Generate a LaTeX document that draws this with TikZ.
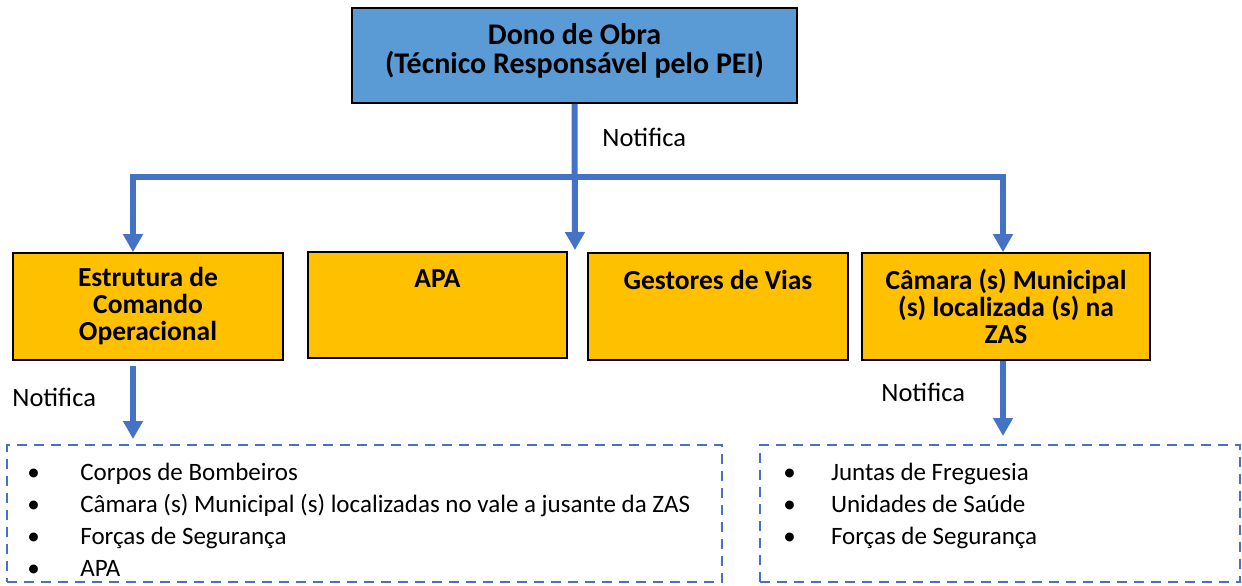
\documentclass[tikz,border=0pt]{standalone}
\usepackage{fontspec}
\setmainfont{Carlito}
\usetikzlibrary{arrows.meta}
\definecolor{azulcaixa}{HTML}{5B9BD5}
\definecolor{laranja}{HTML}{FFC000}
\definecolor{azulseta}{HTML}{4472C4}
\newcommand{\marca}[1][26.5pt]{\makebox[#1][l]{\textbullet}}
\newcommand{\apertado}{\lineskiplimit=-6pt\relax}

\begin{document}
\begin{tikzpicture}[x=0.5pt, y=-0.5pt,
  caixa/.style={draw=black, line width=0.8pt, inner sep=0pt, align=center,
    font=\fontsize{13.75}{13.5}\selectfont\bfseries\apertado},
  topo/.style={caixa, text height=9.5pt, text depth=27pt},
  tracejado/.style={draw=azulseta, line width=1pt, dash pattern=on 5pt off 3.5pt},
  itens/.style={inner sep=0pt, align=left, font=\fontsize{12.5}{16}\selectfont},
  rotulo/.style={inner sep=0pt, font=\fontsize{13.25}{15}\selectfont},
  seta/.style={draw=azulseta, line width=3pt},
  ponta/.tip={Triangle[length=9pt, width=9.5pt]}]
  \useasboundingbox (0,0) rectangle (1242,585);

  \node[caixa, fill=azulcaixa, minimum width=222.5pt, minimum height=47.5pt,
    text height=25.5pt, text depth=8pt,
    font=\fontsize{15}{14.5}\selectfont\bfseries\apertado] (dono) at (574.5,55.5)
    {Dono de Obra\\(Técnico Responsável pelo PEI)};

  \node[caixa, fill=laranja, minimum width=135pt, minimum height=53.5pt] (ece) at (148,306.5)
    {Estrutura de\\Comando\\Operacional};
  \node[topo, fill=laranja, minimum width=129.5pt, minimum height=53pt] (apa) at (437.5,305) {APA};
  \node[topo, fill=laranja, minimum width=130pt, minimum height=53.5pt] (gestores) at (718,306.5) {Gestores de Vias};
  \node[caixa, fill=laranja, minimum width=144pt, minimum height=53.5pt] (camara) at (1006,306.5)
    {Câmara (s) Municipal\\(s) localizada (s) na\\ZAS};

  \node[tracejado, minimum width=357.5pt, minimum height=68.5pt] (listaece) at (364.5,513.5) {};
  \node[tracejado, minimum width=240pt, minimum height=68.5pt] (listacamara) at (1000,513.5) {};

  % a ancora base fica na ultima linha
  \node[itens, anchor=base west] (itensece) at (27,576)
    {\marca Corpos de Bombeiros\\
     \marca Câmara (s) Municipal (s) localizadas no vale a jusante da ZAS\\
     \marca Forças de Segurança\\
     \marca APA};
  \node[itens, anchor=base west] (itenscamara) at (783,544)
    {\marca[21pt] Juntas de Freguesia\\
     \marca[21pt] Unidades de Saúde\\
     \marca[21pt] Forças de Segurança};

  % ligacoes
  \coordinate (jl) at (133,177);
  \coordinate (jr) at (1003,177);
  \coordinate (pontaapa) at (575,250);
  \draw[seta, -ponta] (dono.south) -- (pontaapa);
  \draw[seta, ponta-ponta] (ece.north -| jl) |- (jr) -- (camara.north -| jr);
  \draw[seta, -ponta, shorten <=2.5pt, shorten >=2.5pt] (ece.south -| jl) -- (listaece.north -| jl);
  \draw[seta, -ponta, shorten >=4pt] (camara.south -| jr) -- (listacamara.north -| jr);

  \node[rotulo, anchor=base west] (notdono) at (602,146) {Notifica};
  \node[rotulo, anchor=base west] (notece) at (12,406) {Notifica};
  \node[rotulo, anchor=base west] (notcamara) at (881,401) {Notifica};
\end{tikzpicture}
\end{document}
